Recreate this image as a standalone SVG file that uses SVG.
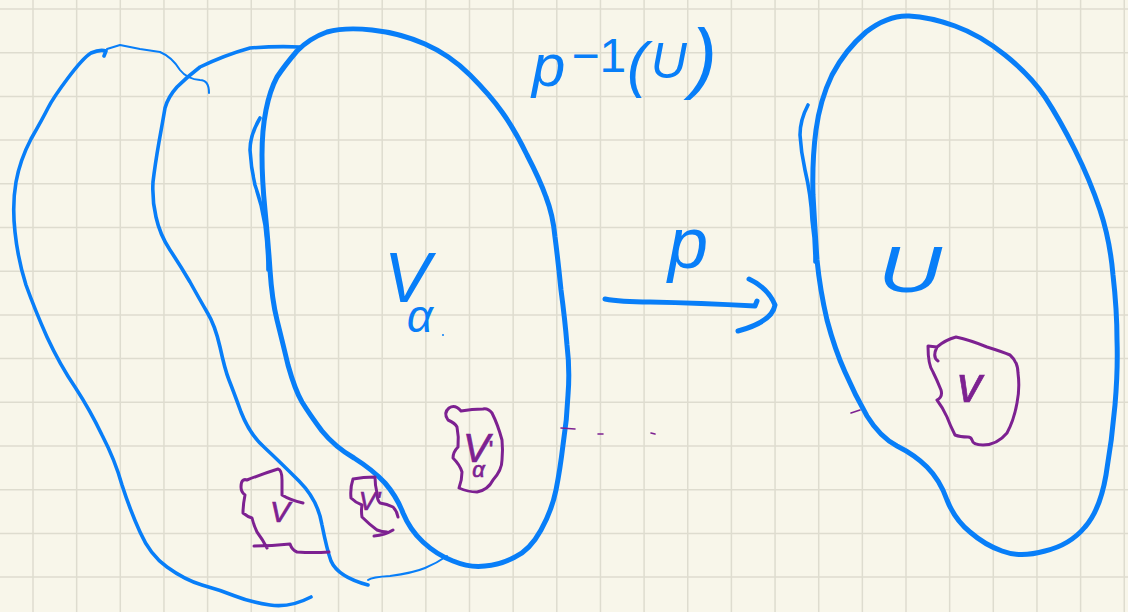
<svg xmlns="http://www.w3.org/2000/svg" width="1128" height="612" viewBox="0 0 1128 612">
<style>
.grid{fill:none;stroke:#dedccf;stroke-width:1.5}
.b{fill:none;stroke:#087ef8;stroke-linecap:round;stroke-linejoin:round;stroke-width:5}
.bm{stroke-width:3.6}
.bt{stroke-width:2}
.p{fill:none;stroke:#7d2191;stroke-linecap:round;stroke-linejoin:round;stroke-width:3}
.pt{stroke-width:1.6}
text{font-family:"Liberation Sans","DejaVu Sans",sans-serif;font-style:italic}
.tb{fill:#087ef8}
.tp{fill:#7d2191;stroke:#7d2191;stroke-width:.7}
</style>
<rect width="1128" height="612" fill="#f8f6ea"/>
<path class="grid" d="M33 0V612M76.65 0V612M120.3 0V612M163.95 0V612M207.6 0V612M251.25 0V612M294.9 0V612M338.55 0V612M382.2 0V612M425.85 0V612M469.5 0V612M513.15 0V612M556.8 0V612M600.45 0V612M644.1 0V612M687.75 0V612M731.4 0V612M775.05 0V612M818.7 0V612M862.35 0V612M906 0V612M949.65 0V612M993.3 0V612M1036.95 0V612M1080.6 0V612M1124.25 0V612M0 9H1128M0 52.7H1128M0 96.4H1128M0 140.1H1128M0 183.8H1128M0 227.5H1128M0 271.2H1128M0 314.9H1128M0 358.6H1128M0 402.3H1128M0 446H1128M0 489.7H1128M0 533.4H1128M0 577.1H1128"/>
<g id="sheet-left">
<path class="b bm" d="M104,56 L106,51 Q100,49 91,53 Q83,58 68,78 Q53,98 48,108 Q43,118 31,139 Q20,160 16,182 Q12,205 15,232 Q18,260 26,285 Q35,310 47,337 Q60,365 75,387 Q90,410 102,435 Q115,460 122,485 Q130,510 140,532 Q150,555 167,567 Q185,580 202,585 Q220,590 235,596 Q250,602 270,605 Q290,608 311,597"/>
<path class="b bt" d="M107,49 L120,45 L140,49 L160,52 Q172,57 180,70 Q187,79 200,80 Q209,80 209,93"/>
</g>
<g id="sheet-middle">
<path class="b bm" d="M300,47 Q275,46 250,48 Q225,55 200,67 Q187,77 177,87 Q168,97 165,108 Q163,120 159,142 Q155,165 153,182 Q152,200 156,217 Q160,235 170,250 Q180,265 190,282 Q200,300 207,312 Q215,325 220,347 Q225,370 229,380 Q233,390 241,412 Q250,435 265,448 Q280,462 299,481 Q318,500 322,525 Q327,550 331,561 Q338,577 368,585"/>
<path class="b bt" d="M368,580 Q372,577 390,576 Q413,573 425,568 Q437,563 447,556"/>
</g>
<g id="sheet-main">
<path class="b" d="M372,30 Q400,33 425,44 Q450,55 470,75 Q490,95 502,112 Q515,130 527,155 Q540,180 546,197 Q553,215 555,237 Q558,260 561,290 Q565,320 567,345 Q570,370 568,395 Q567,420 563,445 Q560,470 556,490 Q552,510 541,530 Q530,550 515,557 Q500,565 485,566 Q470,568 453,561 Q437,555 423,542 Q410,530 403,513 Q397,497 385,483 Q373,470 354,458 Q335,447 322,431 Q310,415 302,402 Q295,390 288,365 Q282,340 277,320 Q272,300 270,270 Q268,240 265,210 Q262,180 262,155 Q262,130 266,110 Q270,90 277,77 Q285,65 297,51 Q310,38 327,32 Q345,27 372,30 Z"/>
<path class="b bm" d="M260,118 Q250,135 250,150 Q251,168 255,185 Q262,205 265,225 Q268,250 268,270"/>
<text class="tb" x="384" y="302" font-size="70">V<tspan font-size="46" dx="-24" dy="30">α</tspan></text>
<circle class="tb" cx="443" cy="335" r="1"/>
</g>
<g id="sheet-label">
<text class="tb" x="532" y="86" font-size="60">p<tspan font-size="48" font-style="normal" dx="6" dy="-14">−1</tspan><tspan font-size="62" dx="1" dy="13">(</tspan><tspan font-size="50" dx="3" dy="-7">U</tspan><tspan font-size="78" dx="4" dy="6">)</tspan></text>
</g>
<g id="map-arrow">
<path class="b" d="M605,299 Q620,302 650,302 Q700,303 755,306 L757,301 M749,279 Q768,288 775,305 Q772,322 738,331"/>
<text class="tb" x="668" y="268" font-size="72">p</text>
</g>
<g id="base">
<path class="b" d="M909,16 Q930,17 955,26 Q980,35 1005,55 Q1030,75 1045,97 Q1060,120 1075,150 Q1090,180 1100,210 Q1110,240 1113,275 Q1117,310 1117,340 Q1118,370 1115,405 Q1112,440 1106,475 Q1100,510 1085,527 Q1070,545 1045,551 Q1020,558 1002,551 Q985,545 970,532 Q955,520 947,500 Q940,480 927,467 Q915,455 897,446 Q880,437 867,416 Q855,395 845,372 Q835,350 827,320 Q820,290 817,260 Q815,230 813,195 Q812,160 816,130 Q820,100 832,75 Q845,50 866,32 Q888,15 909,16 Z"/>
<path class="b bm" d="M808,105 Q800,120 800,135 Q801,152 805,170 Q811,195 812,220 Q815,240 815,262"/>
<text class="tb" x="878" y="292" font-size="64" textLength="64" lengthAdjust="spacingAndGlyphs">U</text>
</g>
<g id="nbhd-base">
<path class="p" d="M928,346 L937,347 Q945,340 956,337 Q970,340 987,347 Q1003,352 1010,355 Q1018,362 1018,373 Q1020,388 1017,403 Q1014,420 1007,433 Q997,445 983,445 Q973,445 972,440 Q971,437 968,437 Q960,437 955,435 Q950,425 947,417 Q943,408 937,400 Q943,397 941,390 Q937,380 933,372 Q928,365 928,346 Z M938,361 Q932,357 937,347"/>
<text class="tp" x="957" y="402" font-size="50" font-style="normal">v</text>
</g>
<g id="nbhd-main">
<path class="p" d="M461,411 Q455,404 449,408 Q443,413 448,420 Q455,423 457,427 Q459,437 458,447 Q453,452 453,458 Q460,465 462,472 Q462,480 459,488 Q468,492 477,492 Q488,490 493,480 Q502,470 502,460 Q503,450 502,440 Q498,425 492,413 Q488,408 483,409 Q472,409 461,411 Z"/>
<text class="tp" x="463" y="462" font-size="40">V<tspan font-size="24" font-style="normal" dx="-1" dy="-4">'</tspan><tspan font-size="22" dx="-21" dy="19">α</tspan></text>
</g>
<g id="nbhd-middle">
<path class="p" d="M375,477 Q363,477 353,479 Q350,488 351,498 Q356,503 362,505 Q361,511 362,517 Q370,525 377,530 Q382,532 387,532 M374,536 Q385,535 393,530 M375,477 Q375,485 377,493 Q377,500 380,503 Q387,504 393,507 Q397,511 398,517"/>
<text class="tp" x="359" y="510" font-size="25" font-style="normal">V'</text>
</g>
<g id="nbhd-left">
<path class="p" d="M247,480 Q262,474 278,469 Q282,470 282,480 L282,495 Q290,500 303,503 M247,480 Q241,478 241,487 Q241,492 245,495 Q243,505 243,513 Q248,517 252,518 Q254,526 257,532 Q263,540 267,548 M254,546 Q272,546 290,544 Q292,550 297,552 Q313,553 329,552"/>
<text class="tp" x="270" y="522" font-size="30" font-style="normal">V</text>
</g>
<g id="marks">
<path class="p pt" d="M561,428 L575,429 M598,434 L603,434 M651,433 L655,434 M851,413 L860,410"/>
</g>
</svg>
